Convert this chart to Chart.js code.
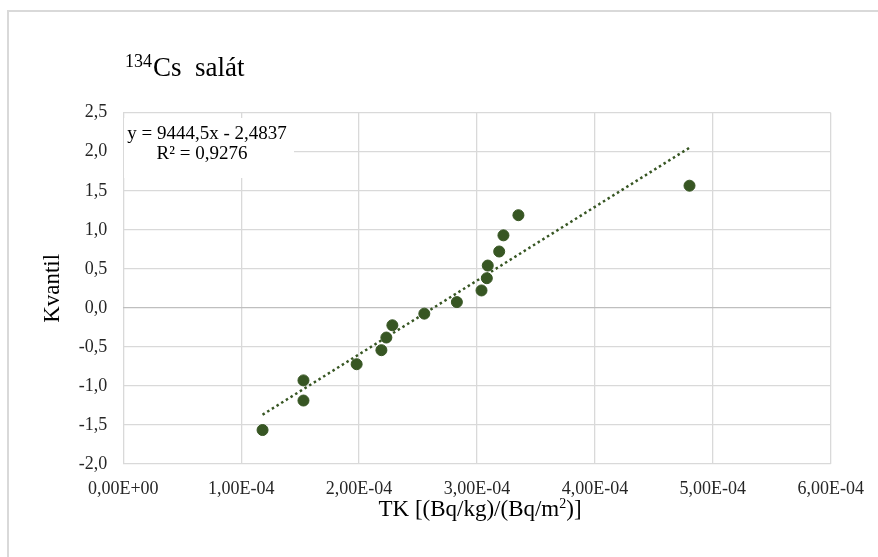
<!DOCTYPE html>
<html>
<head>
<meta charset="utf-8">
<script src="https://cdn.jsdelivr.net/npm/chart.js@4"></script>
<style>
  html, body { margin: 0; padding: 0; background: #fff; }
  #wrap { position: relative; width: 878px; height: 557px; }
</style>
</head>
<body>
<div id="wrap"><canvas id="qqChart" width="878" height="557"></canvas></div>
<script>
// TK values (x) and normal quantiles (y)
const tkValues = [1.181e-4, 1.528e-4, 1.528e-4, 1.979e-4, 2.189e-4, 2.231e-4, 2.282e-4, 2.553e-4,
                  2.829e-4, 3.038e-4, 3.083e-4, 3.091e-4, 3.188e-4, 3.224e-4, 3.351e-4, 4.802e-4];
const quantiles = [-1.565, -1.187, -0.929, -0.722, -0.542, -0.380, -0.223, -0.074,
                   0.074, 0.223, 0.380, 0.542, 0.722, 0.929, 1.187, 1.565];
// trendline as printed on the chart
const trendSlope = 9444.5;
const trendIntercept = -2.4837;
const trendR2 = 0.9276;
const xTicksRange = [0, 6e-4, 1e-4];
const yTicksRange = [-2, 2.5, 0.5];

const green = '#375623';
const serif = "'Liberation Serif', 'Times New Roman', serif";

const points = tkValues.map((x, i) => ({ x: x, y: quantiles[i] }));
const xMin = Math.min(...tkValues), xMax = Math.max(...tkValues);
const trendPoints = [
    { x: xMin, y: trendSlope * xMin + trendIntercept },
    { x: xMax, y: trendSlope * xMax + trendIntercept }
];

function fmtComma(v, d) {
    return v.toFixed(d).replace('.', ',');
}
function fmtSci(v) {
    const parts = v.toExponential(2).split('e');
    const sign = parts[1][0];
    const exp = parts[1].slice(1).padStart(2, '0');
    return parts[0].replace('.', ',') + 'E' + sign + exp;
}

// draw text with a superscript piece in the middle
function drawParts(ctx, parts, cx, baseline) {
    let total = 0;
    parts.forEach(p => { ctx.font = p.font; total += ctx.measureText(p.text).width; });
    let x = cx - total / 2;
    parts.forEach(p => {
        ctx.font = p.font;
        ctx.fillText(p.text, x, baseline + (p.dy || 0));
        x += ctx.measureText(p.text).width;
    });
}

const decorations = {
    id: 'decorations',
    beforeDraw(chart) {
        const ctx = chart.ctx;
        ctx.save();
        ctx.fillStyle = '#fff';
        ctx.fillRect(0, 0, chart.width, chart.height);
        ctx.strokeStyle = '#d9d9d9';
        ctx.lineWidth = 2;
        ctx.strokeRect(8, 11, chart.width + 10, chart.height + 10);
        ctx.restore();
    },
    afterDraw(chart) {
        const ctx = chart.ctx;
        ctx.save();
        ctx.fillStyle = '#000';
        ctx.textBaseline = 'alphabetic';
        ctx.textAlign = 'left';

        // chart title
        ctx.font = '18px ' + serif;
        ctx.fillText('134', 125, 67);
        ctx.font = '27px ' + serif;
        ctx.fillText('Cs  salát', 153, 76);

        // equation label
        ctx.fillStyle = '#fff';
        ctx.fillRect(124, 118, 170, 60);
        ctx.fillStyle = '#000';
        ctx.textAlign = 'center';
        ctx.font = '19px ' + serif;
        ctx.fillText('y = ' + fmtComma(trendSlope, 1) + 'x - ' + fmtComma(-trendIntercept, 4), 207, 139);
        ctx.fillText('R² = ' + fmtComma(trendR2, 4), 202, 159);

        // x axis title
        ctx.textAlign = 'left';
        const area = chart.chartArea;
        drawParts(ctx, [
            { text: 'TK [(Bq/kg)/(Bq/m', font: '23px ' + serif },
            { text: '2', font: '14px ' + serif, dy: -8 },
            { text: ')]', font: '23px ' + serif }
        ], (area.left + area.right) / 2 + 3, 516);

        // y axis title
        ctx.translate(59, (area.top + area.bottom) / 2);
        ctx.rotate(-Math.PI / 2);
        ctx.textAlign = 'center';
        ctx.font = '23px ' + serif;
        ctx.fillText('Kvantil', 0, 0);
        ctx.restore();
    }
};

const ctx = document.getElementById('qqChart').getContext('2d');
const qqChart = new Chart(ctx, {
    type: 'scatter',
    data: {
        datasets: [{
            label: 'Kvantil',
            data: points,
            backgroundColor: green,
            borderColor: green,
            pointRadius: 5.5,
            pointHoverRadius: 5.5,
            order: 1
        }, {
            label: 'Trend',
            type: 'line',
            data: trendPoints,
            borderColor: green,
            borderWidth: 2.5,
            borderDash: [2.5, 3],
            pointRadius: 0,
            fill: false,
            order: 2
        }]
    },
    options: {
        responsive: false,
        animation: false,
        events: [],
        layout: { padding: { top: 112.7, right: 46.3, left: 0, bottom: 0 } },
        plugins: {
            legend: { display: false },
            tooltip: { enabled: false }
        },
        scales: {
            x: {
                type: 'linear',
                min: xTicksRange[0],
                max: xTicksRange[1],
                border: { display: false },
                grid: { color: '#d9d9d9', lineWidth: 1.3, drawTicks: false },
                ticks: {
                    stepSize: xTicksRange[2],
                    padding: 14,
                    color: '#262626',
                    font: { family: serif, size: 18 },
                    maxRotation: 0,
                    callback: v => fmtSci(v)
                },
                afterFit(scale) { scale.height = 557 - 464; }
            },
            y: {
                type: 'linear',
                min: yTicksRange[0],
                max: yTicksRange[1],
                border: { display: false },
                grid: {
                    color: c => (c.tick && Math.abs(c.tick.value) < 1e-9) ? '#bfbfbf' : '#d9d9d9',
                    lineWidth: 1.3,
                    drawTicks: false
                },
                ticks: {
                    stepSize: yTicksRange[2],
                    padding: 16,
                    color: '#262626',
                    font: { family: serif, size: 18 },
                    callback: v => fmtComma(v, 1)
                },
                afterFit(scale) { scale.width = 123.3; }
            }
        }
    },
    plugins: [decorations]
});
</script>
</body>
</html>
